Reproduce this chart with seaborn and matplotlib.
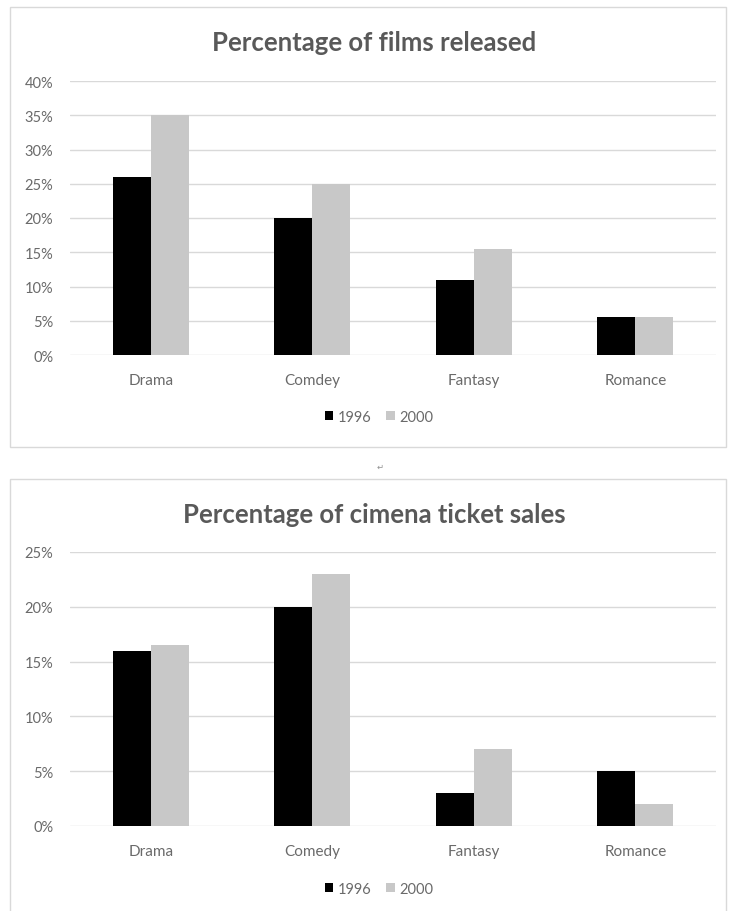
import numpy as np
import pandas as pd
import seaborn as sns
import matplotlib.pyplot as plt
from matplotlib.patches import Rectangle
from matplotlib.ticker import FuncFormatter

# data (percent)
years = ["1996", "2000"]
films_genres = ["Drama", "Comdey", "Fantasy", "Romance"]
films_1996 = [26, 20, 11, 5.5]
films_2000 = [35, 25, 15.5, 5.5]
sales_genres = ["Drama", "Comedy", "Fantasy", "Romance"]
sales_1996 = [16, 20, 3, 5]
sales_2000 = [16.5, 23, 7, 2]

sns.set_style("white")
plt.rcParams['font.family'] = ['Lato', 'DejaVu Sans']

W, H = 732, 912
fig = plt.figure(figsize=(W / 100, H / 100), dpi=100)

title_col = "#595959"
text_col = "#6a6a6a"
grid_col = "#d9d9d9"
palette = {"1996": "#000000", "2000": "#c8c8c8"}


def px_axes(left, top, right, bottom):
    return fig.add_axes([left / W, 1 - bottom / H, (right - left) / W, (bottom - top) / H])


def draw_chart(ax, genres, v1996, v2000, ymax, title, title_y, legend_y):
    df = pd.DataFrame({"Genre": genres * 2,
                       "Year": [years[0]] * len(genres) + [years[1]] * len(genres),
                       "Value": list(v1996) + list(v2000)})
    sns.barplot(data=df, x="Genre", y="Value", hue="Year", palette=palette,
                width=0.47, gap=0, saturation=1, ax=ax, linewidth=0)
    ax.set_ylim(0, ymax)
    ax.set_yticks(np.arange(0, ymax + 0.1, 5))
    ax.yaxis.set_major_formatter(FuncFormatter(lambda v, p: f"{v:.0f}%"))
    ax.set_xlim(-0.5, len(genres) - 0.5)
    ax.grid(axis="y", color=grid_col, linewidth=1)
    ax.set_axisbelow(True)
    for s in ax.spines.values():
        s.set_visible(False)
    ax.tick_params(axis="y", length=0, pad=12, labelsize=10.5, labelcolor=text_col)
    ax.tick_params(axis="x", length=0, pad=13, labelsize=11, labelcolor=text_col)
    ax.set_xlabel("")
    ax.set_ylabel("")
    handles, labels = ax.get_legend_handles_labels()
    ax.get_legend().remove()
    fig.legend(handles, labels, loc="center", bbox_to_anchor=(379 / W, 1 - legend_y / H),
               ncol=2, frameon=False, handlelength=0.6, handleheight=0.6,
               handletextpad=0.3, columnspacing=1.0, fontsize=10.5, labelcolor=text_col)
    fig.text(374 / W, 1 - title_y / H, title, ha="center", va="center",
             fontsize=18.5, fontweight="bold", color=title_col)


# chart frames
fig.patches.append(Rectangle((10 / W, 1 - 448 / H), 716 / W, 440 / H, transform=fig.transFigure,
                             fill=False, edgecolor=grid_col, linewidth=1))
fig.patches.append(Rectangle((10 / W, 1 - 915 / H), 716 / W, 435 / H, transform=fig.transFigure,
                             fill=False, edgecolor=grid_col, linewidth=1))

ax1 = px_axes(70, 82, 716, 356)
draw_chart(ax1, films_genres, films_1996, films_2000, 40,
           "Percentage of films released", 43, 418)

ax2 = px_axes(70, 553, 716, 827)
draw_chart(ax2, sales_genres, sales_1996, sales_2000, 25,
           "Percentage of cimena ticket sales", 515, 890)

fig.text(380 / W, 1 - 467 / H, "\u21b5", ha="center", va="center", fontsize=6,
         color="#909090", family=["DejaVu Sans"])

fig.savefig("out.png", dpi=100)
